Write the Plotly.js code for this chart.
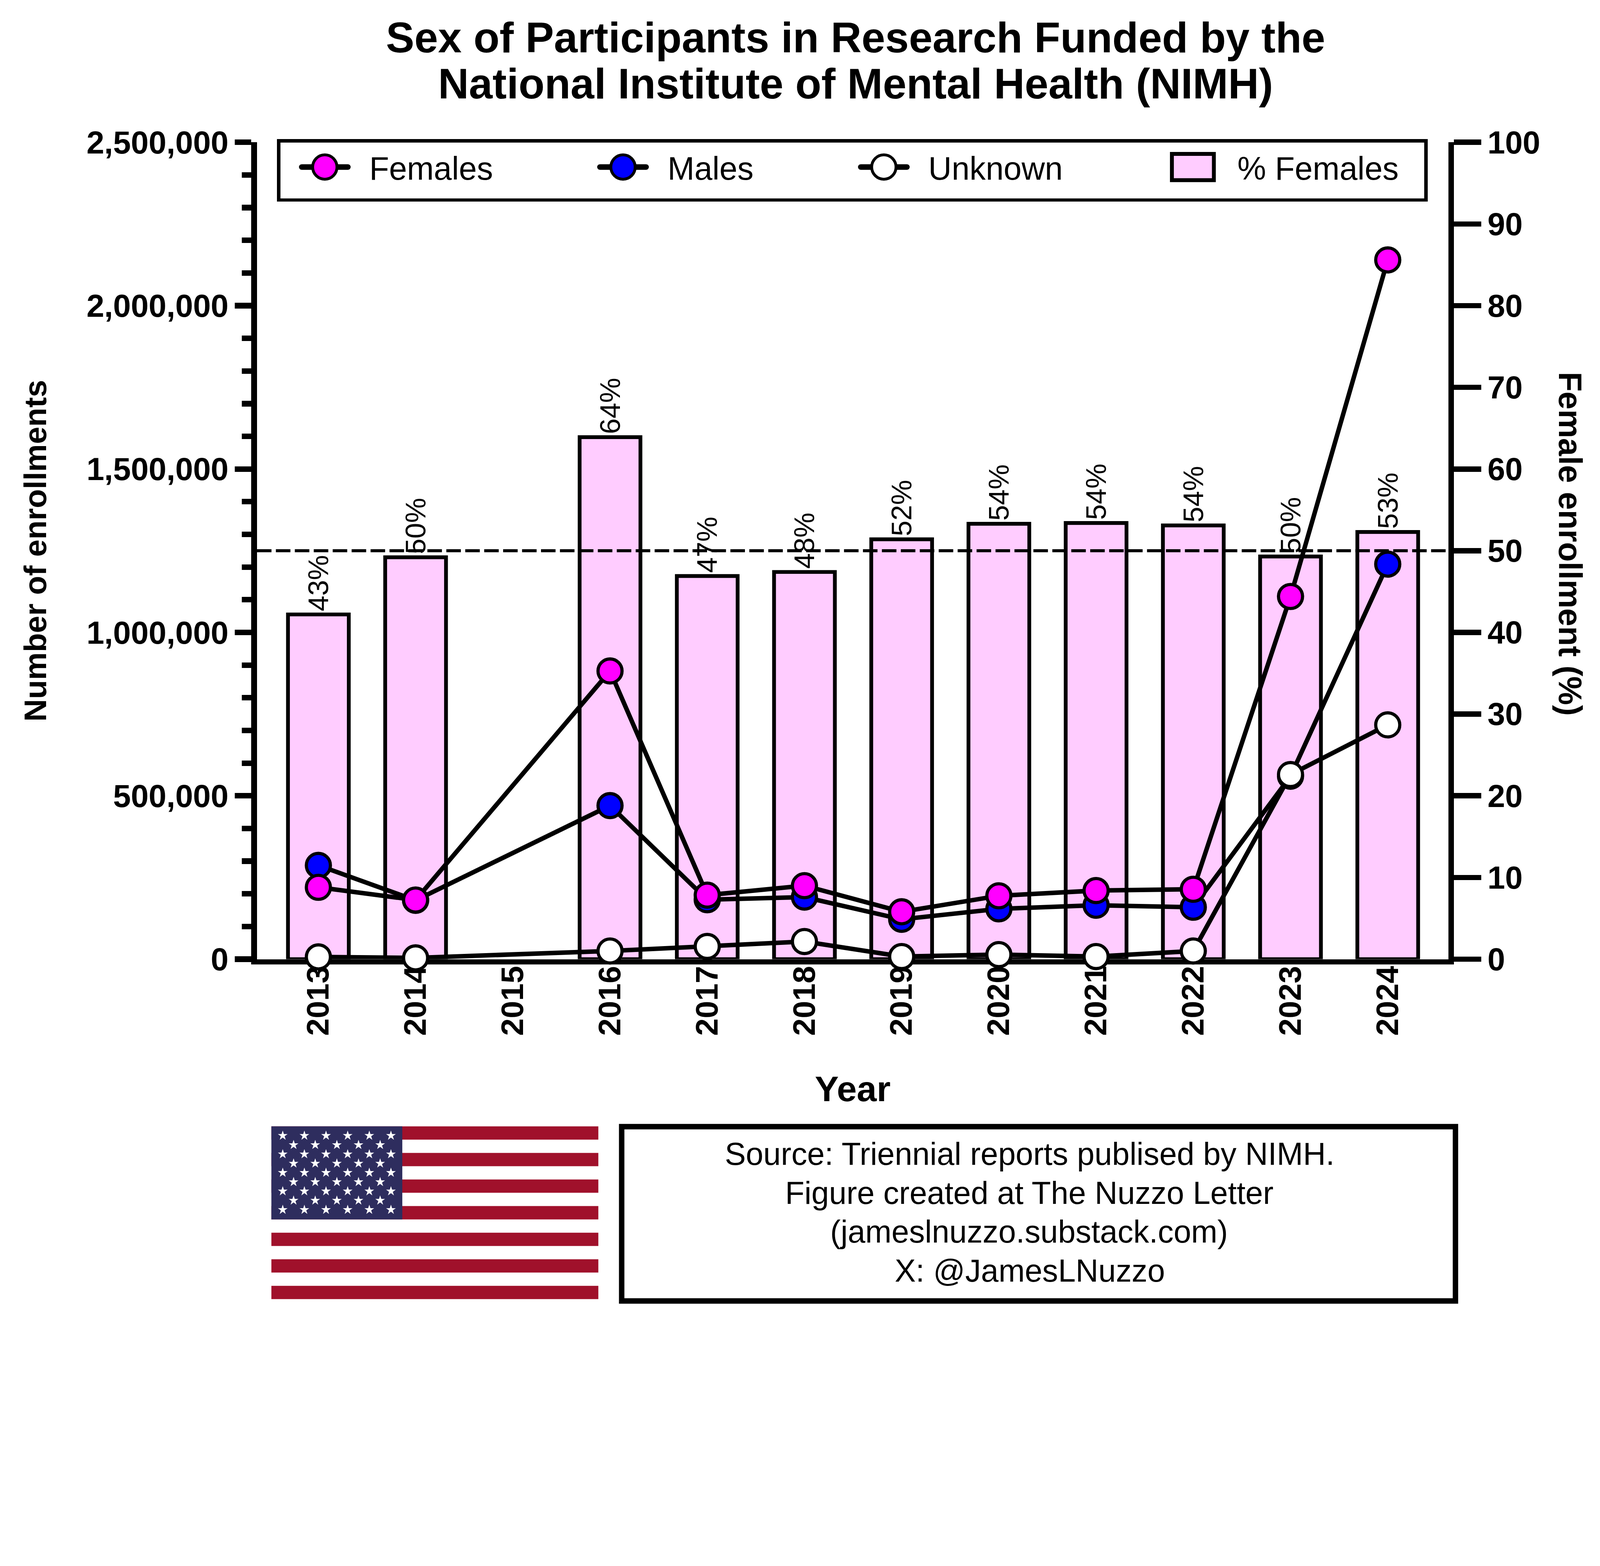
<!DOCTYPE html>
<html>
<head>
<meta charset="utf-8">
<script src="https://cdn.plot.ly/plotly-3.0.1.min.js"></script>
<style>
html, body { margin:0; padding:0; overflow:hidden; background:#ffffff; width:100vw; height:100vh; }
#chart { width:1563px; height:1277px; transform-origin:0 0; }
</style>
</head>
<body>
<div id="chart"></div>
<script>
// ---------- data ----------
var years = ['2013','2014','2015','2016','2017','2018','2019','2020','2021','2022','2023','2024'];
var pctFemales = [42.2, 49.2, null, 63.9, 46.9, 47.4, 51.4, 53.3, 53.4, 53.1, 49.3, 52.3];
var pctLabels = ['43%','50%','','64%','47%','48%','52%','54%','54%','54%','50%','53%'];
var females = [220000, 181000, null, 882000, 196000, 225000, 145000, 194000, 210000, 214000, 1110000, 2140000];
var males   = [287000, 180000, null, 470000, 182000, 190000, 122000, 154000, 165000, 159000, 560000, 1209000];
var unknown = [7000, 4000, null, 25000, 39000, 54000, 8000, 14000, 8000, 25000, 565000, 717000];
var leftTickVals = [0, 500000, 1000000, 1500000, 2000000, 2500000];
var rightTickVals = [0,10,20,30,40,50,60,70,80,90,100];

var titleText = 'Sex of Participants in Research Funded by the<br>National Institute of Mental Health (NIMH)';
var sourceLines = ['Source: Triennial reports publised by NIMH.',
                   'Figure created at The Nuzzo Letter',
                   '(jameslnuzzo.substack.com)',
                   'X: @JamesLNuzzo'];

// ---------- geometry helpers (layout only) ----------
var FONT = 'Liberation Sans, Arial, Helvetica, sans-serif';
var W = 1563, H = 1277;
var L = 250.7, R = 1414.7, T = 139, B = 937;
var PW = R - L, PH = B - T;
function px2x(p) { return (p - L) / PW; }
function py2y(p) { return (B - p) / PH; }

// scale the design-size figure to the window
(function(){
  var iw = window.innerWidth || 4909, ih = window.innerHeight || 4009;
  var s = Math.min(iw / W, ih / H);
  document.getElementById('chart').style.transform = 'scale(' + s + ')';
})();

var shapes = [];
// 50% reference line
shapes.push({type:'line', xref:'paper', yref:'y', x0:0, x1:1, y0:50, y1:50,
  line:{color:'black', width:2.9, dash:'14.2px,4.3px'}, layer:'above'});

// flag
var FL = 264.8, FR = 584.2, FT = 1100.3, FB = 1269.1, CR = 392.7;
var sh = (FB - FT) / 13;
for (var i = 0; i < 13; i += 2) {
  shapes.push({type:'rect', xref:'paper', yref:'paper', x0:px2x(FL), x1:px2x(FR),
    y0:py2y(FT + i*sh), y1:py2y(FT + (i+1)*sh), fillcolor:'#A0112B', line:{width:0}});
}
shapes.push({type:'rect', xref:'paper', yref:'paper', x0:px2x(FL), x1:px2x(CR),
  y0:py2y(FT), y1:py2y(FT + 7*sh), fillcolor:'#2E2D5E', line:{width:0}});
var starPath = '';
var SR = 5.0;
for (var r = 0; r < 9; r++) {
  var cy = FT + 9.1 + r * 9.05;
  var n = (r % 2 === 0) ? 6 : 5;
  var x0 = (r % 2 === 0) ? 275.9 : 286.5;
  for (var c = 0; c < n; c++) {
    var cx = x0 + c * 21.14;
    for (var k = 0; k < 10; k++) {
      var a = (-90 + k * 36) * Math.PI / 180;
      var rr = (k % 2 === 0) ? SR : SR * 0.382;
      var px = cx + rr * Math.cos(a), py = cy + rr * Math.sin(a);
      starPath += (k === 0 ? 'M' : 'L') + px2x(px).toFixed(5) + ',' + py2y(py).toFixed(5);
    }
    starPath += 'Z';
  }
}
shapes.push({type:'path', xref:'paper', yref:'paper', path:starPath, fillcolor:'#ffffff', line:{width:0}});

// source box
shapes.push({type:'rect', xref:'paper', yref:'paper', x0:px2x(607), x1:px2x(1421.5),
  y0:py2y(1100.6), y1:py2y(1270.9), line:{color:'black', width:5.3}, fillcolor:'rgba(0,0,0,0)'});

var annotations = [
  {text:'Female enrollment (%)', xref:'paper', yref:'paper', x:px2x(1533.5), y:py2y(531),
   xanchor:'center', yanchor:'middle', textangle:90, showarrow:false,
   font:{family:FONT, size:31.5, weight:'bold', color:'black'}}
];
var lineMid = [1127, 1165, 1203, 1241.3];
for (var j = 0; j < sourceLines.length; j++) {
  annotations.push({text:sourceLines[j], xref:'paper', yref:'paper', x:px2x(1005.2), y:py2y(lineMid[j]),
    xanchor:'center', yanchor:'middle', align:'center', showarrow:false,
    font:{family:FONT, size:30.8, color:'black'}});
}

// ---------- traces ----------
var lineW = 4.4, mSize = 23.5, mLine = 3.1;
var traces = [
  {type:'bar', name:'% Females', x:years, y:pctFemales, xaxis:'x', yaxis:'y',
   marker:{color:'#FFCCFF', line:{color:'black', width:3.7}},
   text:pctLabels, textposition:'outside', textangle:-90, constraintext:'none', cliponaxis:false,
   textfont:{family:FONT, size:27.5, color:'black'}, legendrank:4, hoverinfo:'skip'},
  {type:'scatter', mode:'lines+markers', name:'Males', x:years, y:males, xaxis:'x', yaxis:'y2',
   connectgaps:true, cliponaxis:false, line:{color:'black', width:lineW},
   marker:{size:mSize, color:'#0000FF', line:{color:'black', width:mLine}}, legendrank:2, hoverinfo:'skip'},
  {type:'scatter', mode:'lines+markers', name:'Unknown', x:years, y:unknown, xaxis:'x', yaxis:'y2',
   connectgaps:true, cliponaxis:false, line:{color:'black', width:lineW},
   marker:{size:mSize, color:'#FFFFFF', line:{color:'black', width:mLine}}, legendrank:3, hoverinfo:'skip'},
  {type:'scatter', mode:'lines+markers', name:'Females', x:years, y:females, xaxis:'x', yaxis:'y2',
   connectgaps:true, cliponaxis:false, line:{color:'black', width:lineW},
   marker:{size:mSize, color:'#FF00FF', line:{color:'black', width:mLine}}, legendrank:1, hoverinfo:'skip'}
];

var layout = {
  width:W, height:H,
  margin:{l:L, r:W-R, t:T, b:H-B, pad:0, autoexpand:false},
  paper_bgcolor:'#ffffff', plot_bgcolor:'rgba(0,0,0,0)',
  font:{family:FONT, color:'black'},
  bargap:0.3745,
  title:{text:titleText, xref:'container', x:835.8/W, xanchor:'center',
         yref:'container', y:1 - 51/H, yanchor:'middle',
         font:{family:FONT, size:41.6, weight:'bold', color:'black'}},
  xaxis:{type:'category', categoryorder:'array', categoryarray:years, range:[-0.632, 11.625],
         showline:true, linewidth:5.3, linecolor:'black', ticks:'', tickangle:-90, ticklabelstandoff:-11,
         tickfont:{family:FONT, size:30.7, weight:'bold', color:'black'},
         showgrid:false, zeroline:false, layer:'below traces', fixedrange:true,
         title:{text:'Year', font:{family:FONT, size:35, weight:'bold', color:'black'}, standoff:42}},
  yaxis:{side:'right', range:[0,100], tickmode:'array', tickvals:rightTickVals,
         showline:true, linewidth:5.2, linecolor:'black', ticks:'outside', ticklen:26.7, tickwidth:5.2,
         tickcolor:'black', tickfont:{family:FONT, size:30.9, weight:'bold', color:'black'},
         showgrid:false, zeroline:false, fixedrange:true},
  yaxis2:{overlaying:'y', side:'left', range:[0,2500000], tickmode:'array', tickvals:leftTickVals,
         tickformat:',d', showline:true, linewidth:5.5, linecolor:'black', ticks:'outside', ticklen:16,
         tickwidth:5.4, tickcolor:'black', ticklabelstandoff:4.5,
         minor:{dtick:100000, tick0:0, ticks:'outside', ticklen:9.2, tickwidth:5.4, tickcolor:'black'},
         tickfont:{family:FONT, size:31.2, weight:'bold', color:'black'},
         showgrid:false, zeroline:false, fixedrange:true,
         title:{text:'Number of enrollments', font:{family:FONT, size:30.5, weight:'bold', color:'black'}, standoff:31.5}},
  showlegend:true,
  legend:{orientation:'h', x:px2x(270.3), xanchor:'left', y:1 + (T - 136)/PH, yanchor:'top',
          bgcolor:'#ffffff', bordercolor:'black', borderwidth:3.2,
          font:{family:FONT, size:31.5, color:'black'},
          itemwidth:77, entrywidth:193, entrywidthmode:'pixels', traceorder:'normal', itemclick:false, itemdoubleclick:false},
  shapes:shapes,
  annotations:annotations
};

var gd = document.getElementById('chart');
function parseTranslate(el) {
  var t = el.getAttribute('transform') || '';
  var m = /translate\(\s*([-\d.e]+)[ ,]+([-\d.e]+)\s*\)/.exec(t);
  return m ? [parseFloat(m[1]), parseFloat(m[2])] : [0, 0];
}
function patchFigure() {
  // legend symbols at the reference's scale
  var rad = 11.9;
  var circ = 'M'+rad+',0A'+rad+','+rad+' 0 1,1 0,-'+rad+'A'+rad+','+rad+' 0 0,1 '+rad+',0Z';
  gd.querySelectorAll('.legend path.scatterpts').forEach(function(p){
    p.setAttribute('d', circ); p.style.strokeWidth = '2.8px';
  });
  gd.querySelectorAll('.legend .legendlines path').forEach(function(p){
    var b = p.getBBox(); var c = b.x + b.width/2;
    p.setAttribute('d', 'M' + (c - 22.5) + ',0h45');
    p.style.strokeWidth = '5.5px'; p.style.strokeLinecap = 'round';
  });
  var items = Array.prototype.slice.call(gd.querySelectorAll('.legend g.traces'));
  items.forEach(function(g){
    var t = g.querySelector('text.legendtext');
    if (t && t.textContent.indexOf('%') === 0) {
      g.querySelectorAll('g.legendpoints path').forEach(function(p){
        p.setAttribute('d', 'M20.5,12.8H-20.5V-12.8H20.5Z');
        p.style.strokeWidth = '3.8px'; p.style.stroke = 'black'; p.style.fill = '#FFCCFF';
      });
    }
  });
  // legend entry spacing as in the reference (entries sized by their text)
  items.sort(function(a, b){ return parseTranslate(a)[0] - parseTranslate(b)[0]; });
  var offs = [0, 291.3, 546.1, 848.0];
  if (items.length === 4) {
    var base = parseTranslate(items[0]);
    items.forEach(function(g, idx){
      var tr = parseTranslate(g);
      g.setAttribute('transform', 'translate(' + (base[0] + offs[idx]) + ',' + (tr[1] - 3) + ')');
    });
  }
  var bg = gd.querySelector('.legend rect.bg');
  if (bg) bg.setAttribute('width', 1124 - 3.2);
  // title line spacing as in the reference
  var tl = gd.querySelectorAll('.gtitle tspan.line');
  if (tl.length === 2) tl[1].setAttribute('dy', '1.09em');
}
Plotly.newPlot(gd, traces, layout, {staticPlot:true, displayModeBar:false, responsive:false}).then(patchFigure);
</script>
</body>
</html>
